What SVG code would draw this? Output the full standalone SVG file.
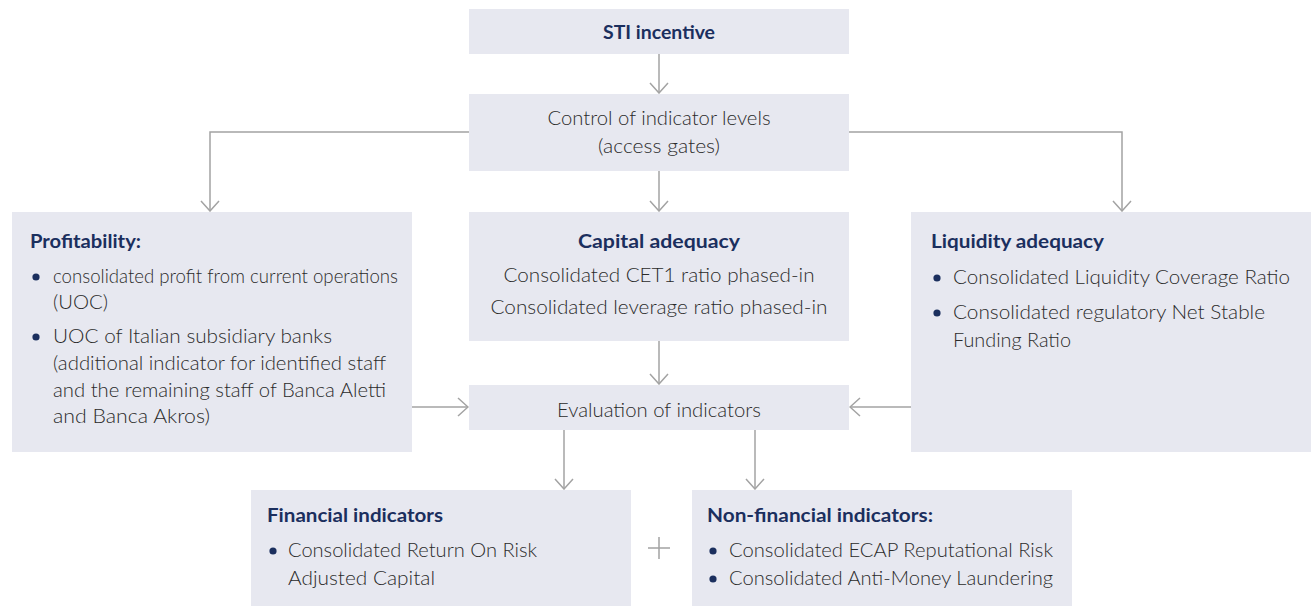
<svg xmlns="http://www.w3.org/2000/svg" width="1314" height="606" viewBox="0 0 1314 606">
<style>
.box{fill:#e7e8f0}
.t{font-family:Lato,"Liberation Sans",sans-serif;font-size:19px;fill:#2b2b2b;font-weight:300}
.h{font-family:Lato,"Liberation Sans",sans-serif;font-size:19px;fill:#1b2f5e;font-weight:700}
.c{text-anchor:middle}
.b{fill:#1b2f5e}
.ln{fill:none;stroke:#a3a3a3;stroke-width:1.5}
</style>
<defs>
<marker id="ah" viewBox="0 0 12 20" refX="11" refY="10" markerWidth="12" markerHeight="20" markerUnits="userSpaceOnUse" orient="auto">
<path d="M1,1 L11,10 L1,19" fill="none" stroke="#a3a3a3" stroke-width="1.5"/>
</marker>
</defs>
<g id="connectors">
<line class="ln" x1="659" y1="54" x2="659" y2="93" marker-end="url(#ah)"/>
<polyline class="ln" points="469,132 210,132 210,211" marker-end="url(#ah)"/>
<polyline class="ln" points="849,132 1122,132 1122,211" marker-end="url(#ah)"/>
<line class="ln" x1="659" y1="171" x2="659" y2="211" marker-end="url(#ah)"/>
<line class="ln" x1="659" y1="341" x2="659" y2="384" marker-end="url(#ah)"/>
<line class="ln" x1="412" y1="407" x2="468" y2="407" marker-end="url(#ah)"/>
<line class="ln" x1="911" y1="407" x2="850" y2="407" marker-end="url(#ah)"/>
<line class="ln" x1="564" y1="430" x2="564" y2="489" marker-end="url(#ah)"/>
<line class="ln" x1="755" y1="430" x2="755" y2="489" marker-end="url(#ah)"/>
<path class="ln" d="M648,548 H670 M659,537 V559" stroke-width="1.2"/>
</g>
<g id="sti">
<rect class="box" x="469" y="9" width="380" height="45"/>
<text class="h c" x="659" y="39" textLength="112" lengthAdjust="spacingAndGlyphs">STI incentive</text>
</g>
<g id="control">
<rect class="box" x="469" y="94" width="380" height="77"/>
<text class="t c" x="659" y="125" textLength="223" lengthAdjust="spacingAndGlyphs">Control of indicator levels</text>
<text class="t c" x="659" y="153" textLength="122" lengthAdjust="spacingAndGlyphs">(access gates)</text>
</g>
<g id="profitability">
<rect class="box" x="12" y="212" width="400" height="240"/>
<text class="h" x="30" y="248" textLength="111" lengthAdjust="spacingAndGlyphs">Profitability:</text>
<circle class="b" cx="36" cy="277" r="3.6"/>
<text class="t" x="53" y="283" textLength="345" lengthAdjust="spacingAndGlyphs">consolidated profit from current operations</text>
<text class="t" x="53" y="309" textLength="55" lengthAdjust="spacingAndGlyphs">(UOC)</text>
<circle class="b" cx="36" cy="337" r="3.6"/>
<text class="t" x="53" y="343" textLength="279" lengthAdjust="spacingAndGlyphs">UOC of Italian subsidiary banks</text>
<text class="t" x="53" y="370" textLength="333" lengthAdjust="spacingAndGlyphs">(additional indicator for identified staff</text>
<text class="t" x="53" y="397" textLength="333" lengthAdjust="spacingAndGlyphs">and the remaining staff of Banca Aletti</text>
<text class="t" x="53" y="423" textLength="157" lengthAdjust="spacingAndGlyphs">and Banca Akros)</text>
</g>
<g id="capital">
<rect class="box" x="469" y="212" width="380" height="129"/>
<text class="h c" x="659" y="248" textLength="162" lengthAdjust="spacingAndGlyphs">Capital adequacy</text>
<text class="t c" x="659" y="282" textLength="311" lengthAdjust="spacingAndGlyphs">Consolidated CET1 ratio phased-in</text>
<text class="t c" x="659" y="314" textLength="337" lengthAdjust="spacingAndGlyphs">Consolidated leverage ratio phased-in</text>
</g>
<g id="liquidity">
<rect class="box" x="911" y="212" width="400" height="240"/>
<text class="h" x="931" y="248" textLength="173" lengthAdjust="spacingAndGlyphs">Liquidity adequacy</text>
<circle class="b" cx="937" cy="278" r="3.6"/>
<text class="t" x="953" y="284" textLength="337" lengthAdjust="spacingAndGlyphs">Consolidated Liquidity Coverage Ratio</text>
<circle class="b" cx="937" cy="313" r="3.6"/>
<text class="t" x="953" y="319" textLength="312" lengthAdjust="spacingAndGlyphs">Consolidated regulatory Net Stable</text>
<text class="t" x="953" y="347" textLength="118" lengthAdjust="spacingAndGlyphs">Funding Ratio</text>
</g>
<g id="evaluation">
<rect class="box" x="469" y="385" width="380" height="45"/>
<text class="t c" x="659" y="417" textLength="204" lengthAdjust="spacingAndGlyphs">Evaluation of indicators</text>
</g>
<g id="financial">
<rect class="box" x="251" y="490" width="380" height="116"/>
<text class="h" x="267" y="522" textLength="176" lengthAdjust="spacingAndGlyphs">Financial indicators</text>
<circle class="b" cx="273" cy="551" r="3.6"/>
<text class="t" x="288" y="557" textLength="249" lengthAdjust="spacingAndGlyphs">Consolidated Return On Risk</text>
<text class="t" x="288" y="585" textLength="147" lengthAdjust="spacingAndGlyphs">Adjusted Capital</text>
</g>
<g id="nonfinancial">
<rect class="box" x="692" y="490" width="380" height="116"/>
<text class="h" x="707" y="522" textLength="226" lengthAdjust="spacingAndGlyphs">Non-financial indicators:</text>
<circle class="b" cx="713" cy="551" r="3.6"/>
<text class="t" x="729" y="557" textLength="324" lengthAdjust="spacingAndGlyphs">Consolidated ECAP Reputational Risk</text>
<circle class="b" cx="713" cy="579" r="3.6"/>
<text class="t" x="729" y="585" textLength="324" lengthAdjust="spacingAndGlyphs">Consolidated Anti-Money Laundering</text>
</g>
</svg>
